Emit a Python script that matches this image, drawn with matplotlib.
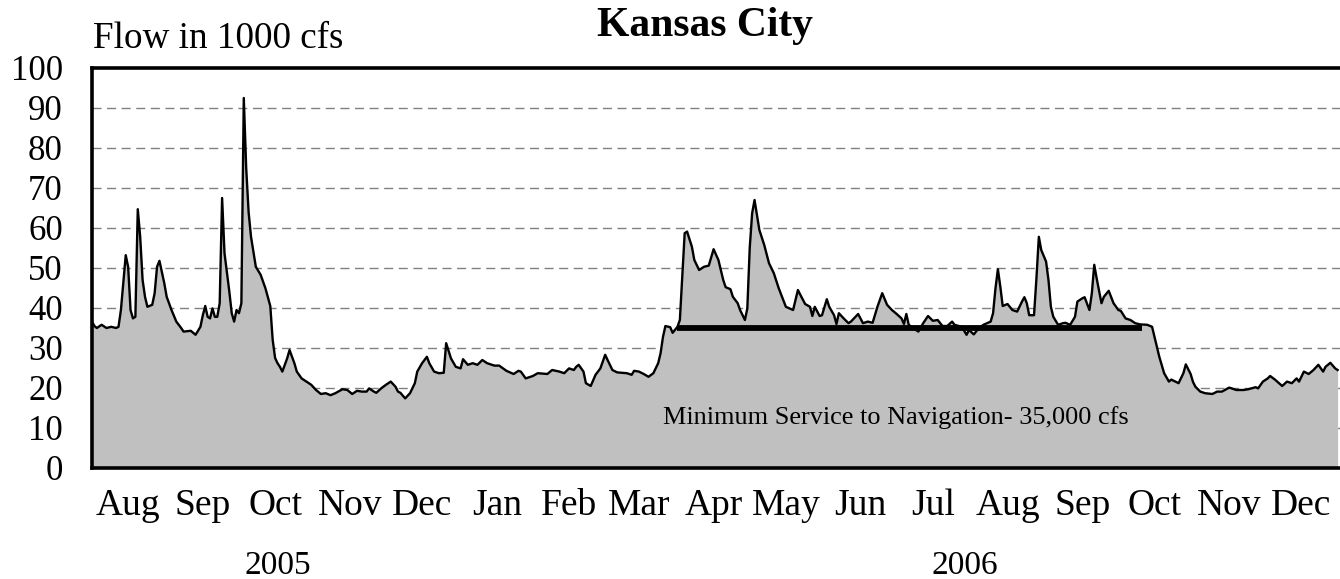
import numpy as np
import matplotlib
matplotlib.use("Agg")
import matplotlib.pyplot as plt
import matplotlib.transforms as mtransforms

# ---------------- data ----------------
start_date = "2005-08-01"
day_offset = [0, 1, 2, 4, 6, 8, 10, 11, 12, 13, 14, 15, 16, 17, 18, 19, 20, 21, 22, 23,
              25, 26, 27, 28, 30, 31, 33, 35, 37, 38, 41, 43, 45, 46, 47, 48, 49, 50, 51, 52,
              53, 54, 55, 57, 58, 59, 60, 61, 62, 63, 64, 65, 66, 68, 70, 72, 74, 75, 76, 77,
              78, 79, 81, 82, 84, 85, 87, 89, 91, 93, 95, 97, 99, 101, 104, 106, 108, 110, 112, 114,
              115, 117, 118, 120, 122, 124, 126, 127, 128, 130, 132, 134, 135, 137, 139, 140, 142, 144, 146, 147,
              149, 151, 153, 154, 156, 158, 160, 162, 164, 167, 169, 172, 175, 177, 178, 180, 183, 185, 189, 191,
              194, 196, 198, 200, 201, 202, 204, 205, 207, 209, 211, 213, 214, 216, 218, 220, 222, 224, 225, 227,
              229, 231, 233, 235, 236, 237, 238, 240, 241, 243, 244, 245, 246, 247, 249, 250, 252, 254, 256, 258,
              260, 262, 263, 265, 266, 268, 269, 271, 272, 273, 274, 275, 277, 279, 281, 283, 285, 288, 291, 293,
              294, 296, 298, 299, 300, 302, 303, 305, 306, 308, 309, 310, 312, 314, 315, 318, 320, 322, 324, 326,
              328, 330, 332, 334, 336, 337, 338, 339, 341, 343, 345, 347, 349, 351, 353, 355, 357, 358, 361, 363,
              364, 366, 368, 370, 373, 374, 375, 376, 377, 378, 380, 382, 384, 386, 387, 388, 389, 391, 392, 393,
              394, 396, 397, 398, 399, 401, 403, 404, 406, 408, 409, 411, 412, 414, 415, 416, 417, 419, 420, 422,
              424, 426, 427, 429, 431, 433, 435, 438, 440, 441, 443, 445, 447, 448, 451, 453, 454, 456, 457, 458,
              460, 462, 465, 467, 469, 472, 475, 478, 480, 483, 484, 486, 488, 489, 491, 494, 496, 498, 500, 501,
              503, 505, 507, 509, 511, 512, 514, 516, 517]
flow_kcfs = [36.6, 35.5, 35.0, 35.8, 35.0, 35.3, 35.0, 35.3, 39.5, 46.2, 53.2, 50.3, 39.5, 37.4, 37.8, 64.7, 57.8, 47.0, 42.8, 40.3,
             40.8, 43.7, 50.3, 51.8, 46.2, 42.8, 39.5, 36.6, 35.0, 34.1, 34.3, 33.3, 35.3, 38.2, 40.5, 37.8, 37.4, 39.9, 37.8, 37.8,
             41.2, 67.5, 53.7, 44.1, 38.7, 36.6, 39.5, 38.7, 41.2, 92.5, 75.0, 64.0, 57.8, 50.3, 48.3, 44.9, 40.5, 32.0, 27.5, 26.2,
             25.3, 24.1, 27.4, 29.5, 26.2, 24.1, 22.4, 21.6, 20.8, 19.5, 18.5, 18.7, 18.2, 18.7, 19.7, 19.5, 18.5, 19.3, 19.1, 19.1,
             19.9, 19.1, 18.8, 19.9, 20.8, 21.6, 20.3, 19.1, 18.8, 17.4, 18.7, 21.2, 24.1, 26.2, 27.8, 26.2, 24.1, 23.7, 23.8, 31.2,
             27.4, 25.3, 24.9, 27.2, 25.8, 26.2, 25.8, 27.0, 26.2, 25.6, 25.6, 24.3, 23.5, 24.3, 24.1, 22.4, 23.0, 23.7, 23.5, 24.5,
             24.1, 23.7, 24.9, 24.5, 25.3, 25.8, 24.1, 21.2, 20.5, 23.3, 24.9, 28.3, 27.0, 24.5, 23.9, 23.8, 23.7, 23.3, 24.3, 24.1,
             23.5, 22.8, 23.7, 26.2, 28.7, 32.8, 35.5, 35.2, 33.8, 35.3, 37.0, 47.8, 58.7, 59.1, 55.3, 52.0, 49.5, 50.3, 50.6, 54.7,
             52.0, 47.0, 45.2, 44.7, 42.8, 41.2, 39.5, 37.0, 39.9, 55.0, 63.7, 67.0, 59.5, 55.8, 51.2, 48.7, 45.0, 40.3, 39.5, 44.5,
             43.3, 41.0, 40.3, 38.0, 40.3, 38.0, 38.2, 42.2, 40.3, 38.2, 36.0, 38.7, 37.4, 36.2, 36.6, 38.5, 36.2, 36.6, 36.3, 40.3,
             43.7, 40.8, 39.5, 38.5, 37.4, 36.0, 38.5, 35.8, 34.9, 34.1, 36.2, 38.0, 36.8, 37.0, 35.5, 35.5, 36.6, 35.8, 35.3, 33.3,
             34.5, 33.4, 34.9, 35.8, 36.6, 38.7, 44.9, 49.7, 45.4, 40.5, 41.0, 39.5, 39.1, 41.6, 42.7, 41.2, 38.2, 38.2, 47.4, 57.8,
             54.5, 51.6, 47.0, 40.3, 37.8, 35.8, 36.2, 36.3, 35.8, 37.8, 41.6, 42.4, 42.7, 39.5, 43.7, 50.8, 47.4, 41.2, 42.8, 44.3,
             41.2, 39.5, 39.3, 37.4, 37.0, 36.2, 35.9, 35.8, 35.3, 32.8, 27.8, 23.7, 21.6, 22.1, 21.2, 23.7, 25.9, 23.5, 21.5, 20.3,
             19.1, 18.7, 18.5, 19.1, 19.1, 20.1, 19.5, 19.5, 19.7, 20.2, 19.9, 21.6, 22.4, 23.0, 22.1, 20.5, 21.6, 21.2, 22.4, 21.6,
             24.1, 23.5, 24.5, 25.8, 24.1, 25.3, 26.3, 24.9, 24.5]

nav_target_kcfs = 35
nav_start = "2006-04-01"
nav_end = "2006-10-11"
nav_label = "Minimum Service to Navigation- 35,000 cfs"

month_labels = ["Aug", "Sep", "Oct", "Nov", "Dec", "Jan", "Feb", "Mar", "Apr",
                "May", "Jun", "Jul", "Aug", "Sep", "Oct", "Nov", "Dec"]
year_labels = ["2005", "2006"]
y_ticks = list(range(0, 101, 10))
title_text = "Kansas City"
units_text = "Flow in 1000 cfs"

# ---------------- figure ----------------
W, H = 1340, 579
fig = plt.figure(figsize=(W / 100, H / 100), dpi=100)
ax = fig.add_axes([92 / W, (H - 468) / H, (W - 92) / W, 400 / H])

serif = ["Liberation Serif", "DejaVu Serif"]

dates = np.datetime64(start_date) + np.array(day_offset, dtype="timedelta64[D]")
dates = dates.astype("datetime64[D]").astype("O")

ax.fill_between(dates, flow_kcfs, 0, color="#C0C0C0", linewidth=0, zorder=2)
ax.plot(dates, flow_kcfs, color="black", linewidth=1.7, zorder=3, solid_joinstyle="round")

ns = np.datetime64(nav_start).astype("O")
ne = np.datetime64(nav_end).astype("O")
ax.hlines(nav_target_kcfs, ns, ne, color="black", linewidth=4.2, zorder=4)

x0 = np.datetime64("2005-08-01").astype("O")
x1 = np.datetime64("2007-01-01").astype("O")
ax.set_xlim(x0, x1)
ax.set_ylim(0, 100)

# grid
for v in y_ticks[1:-1]:
    ax.axhline(v, color="#808080", linewidth=1.0, linestyle=(0, (6.5, 4)), zorder=1)

# y ticks
ax.set_yticks(y_ticks)
ax.set_yticklabels([str(v) for v in y_ticks], fontfamily=serif, fontsize=25)
ax.tick_params(axis="y", length=0, pad=21)

# x ticks: month labels at month centers
month_starts = np.arange(np.datetime64("2005-08"), np.datetime64("2007-01"), dtype="datetime64[M]")
centers = []
for m in month_starts:
    a = m.astype("datetime64[D]")
    b = (m + 1).astype("datetime64[D]")
    centers.append((a + (b - a) / 2).astype("O"))
ax.set_xticks(centers)
ax.set_xticklabels(month_labels, fontfamily=serif, fontsize=27)
ax.tick_params(axis="x", length=0, pad=15)

for s in ["left", "top", "bottom"]:
    ax.spines[s].set_linewidth(2.6)
    ax.spines[s].set_color("black")
ax.spines["right"].set_visible(False)
for s in ax.spines.values():
    s.set_zorder(5)

# annotation
trans = mtransforms.blended_transform_factory(ax.transAxes, ax.transData)
ax.text((896 - 92) / (W - 92), 11, nav_label, transform=trans, ha="center", va="baseline",
        fontfamily=serif, fontsize=18.9, zorder=6)

# titles
fig.text(705 / W, 1 - 36 / H, title_text, ha="center", va="baseline",
         fontfamily=serif, fontsize=30, fontweight="bold")
fig.text(93 / W, 1 - 48 / H, units_text, ha="left", va="baseline",
         fontfamily=serif, fontsize=26.7)

# years
fig.text(278 / W, 1 - 574 / H, year_labels[0], ha="center", va="baseline",
         fontfamily=serif, fontsize=24)
fig.text(965 / W, 1 - 574 / H, year_labels[1], ha="center", va="baseline",
         fontfamily=serif, fontsize=24)

fig.savefig("out.png", dpi=100)
